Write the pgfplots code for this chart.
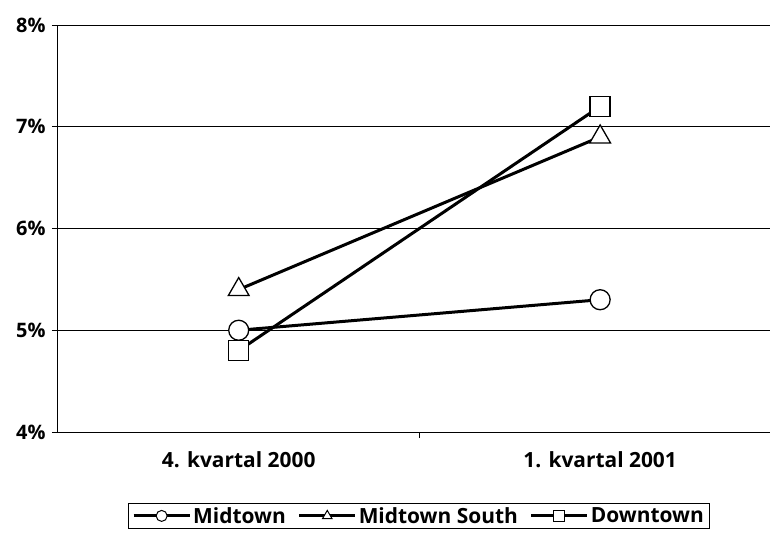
\documentclass[border=0pt]{standalone}
\usepackage{pgfplots}
\pgfplotsset{compat=1.18}
\usepackage{fontspec}
\setmainfont{Open Sans}
\begin{document}
\begin{tikzpicture}
\begin{axis}[
  at={(0,0)}, anchor=south west,
  scale only axis,
  width=712bp, height=407bp,
  xmin=0.5, xmax=2.47,
  ymin=4, ymax=8,
  axis x line*=bottom, axis y line*=left,
  axis line style={black, line width=1bp},
  xtick={1,2}, xticklabels={4. kvartal 2000, 1. kvartal 2001},
  major x tick style={draw=none},
  minor xtick={1.5},
  minor tick length=6bp,
  minor x tick style={black, line width=0.8bp},
  ytick={4,5,6,7,8}, yticklabels={4\%,5\%,6\%,7\%,8\%},
  major tick length=6bp,
  tick align=outside,
  y tick style={black, line width=0.8bp},
  ymajorgrids, major grid style={black, line width=0.8bp},
  /pgf/number format/assume math mode=true,
  yticklabel style={font=\fontsize{20}{24}\selectfont\bfseries, xshift=-3bp},
  xticklabel style={font=\fontsize{21}{24}\selectfont\bfseries, yshift=-10bp},
  legend columns=-1,
  legend style={at={(0.507,-0.174)}, anchor=north, draw=black, line width=0.8bp,
    font=\fontsize{21}{24}\selectfont\bfseries, inner xsep=4bp, inner ysep=2bp,
    /tikz/every even column/.append style={column sep=10bp}},
  legend image code/.code={\draw[#1, line width=3bp, mark repeat=2, mark phase=2, mark options={solid, fill=white, line width=1bp, mark size=5.5bp}] plot coordinates {(0bp,0bp) (28bp,0bp) (56bp,0bp)};},
  every axis plot/.append style={black, line width=3bp},
  clip=false,
]
\addplot[mark=*, mark options={solid, fill=white, mark size=10bp, line width=1.3bp}] coordinates {(1,5.0) (2,5.3)};
\addlegendentry{Midtown}
\addplot[mark=triangle*, mark options={solid, fill=white, mark size=12bp, line width=1.3bp}] coordinates {(1,5.4) (2,6.9)};
\addlegendentry{Midtown South}
\addplot[mark=square*, mark options={solid, fill=white, mark size=10bp, line width=1.3bp}] coordinates {(1,4.8) (2,7.2)};
\addlegendentry{Downtown}
\end{axis}
\pgfresetboundingbox
\path (-58bp,-102bp) rectangle (712bp,432bp);
\end{tikzpicture}
\end{document}
